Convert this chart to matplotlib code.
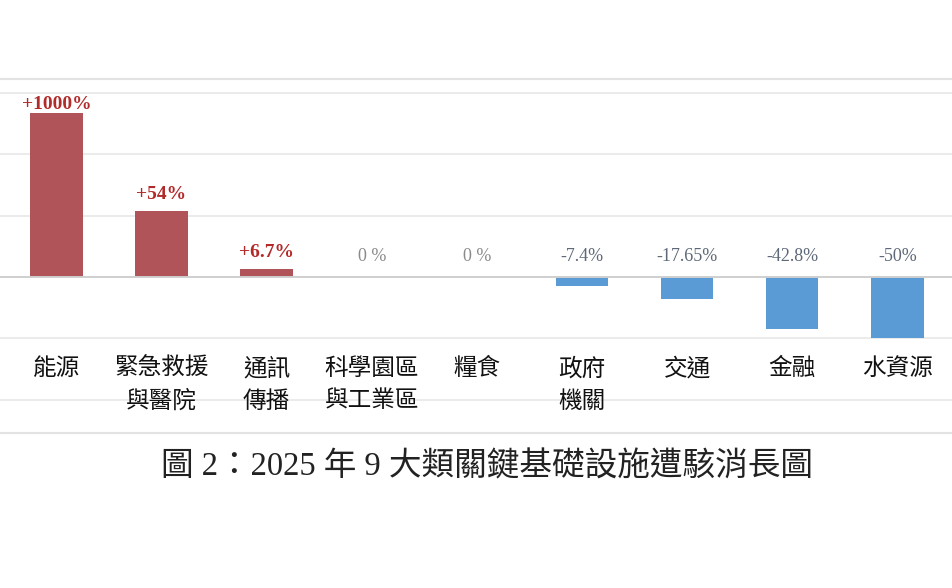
import matplotlib.pyplot as plt
from matplotlib.transforms import offset_copy

# data
categories = ['能源', '緊急救援\n與醫院', '通訊\n傳播', '科學園區\n與工業區', '糧食',
              '政府\n機關', '交通', '金融', '水資源']
values = [1000, 54, 6.7, 0, 0, -7.4, -17.65, -42.8, -50]
value_labels = ['+1000%', '+54%', '+6.7%', '0 %', '0 %', '-7.4%', '-17.65%', '-42.8%', '-50%']
title = '圖 2：2025 年 9 大類關鍵基礎設施遭駭消長圖'

# the big bar is cut off at the top of the chart
cap = 134
shown = [min(v, cap) for v in values]

red = '#b0545a'
blue = '#5b9bd5'
cjk = ['Liberation Serif', 'Noto Sans CJK TC']

fig = plt.figure(figsize=(9.53, 5.88), dpi=100)
ax = fig.add_axes([0, 1 - 433 / 588, 1, 354 / 588])

x = list(range(len(categories)))
colors = [red if v > 0 else blue for v in values]
ax.bar(x, shown, width=0.5, color=colors, zorder=3)

ax.set_xlim(-0.537, 8.53)
ax.set_ylim(-127.2, 161.4)
for g in [-100, -50, 50, 100, 150]:
    ax.axhline(g, color='#e8e8e8', lw=1.2, zorder=1)
ax.axhline(0, color='#cfcfcf', lw=1.4, zorder=4)

for s in ['left', 'right']:
    ax.spines[s].set_visible(False)
for s in ['top', 'bottom']:
    ax.spines[s].set_color('#e3e3e3')
    ax.spines[s].set_linewidth(1.5)
ax.set_xticks([])
ax.set_yticks([])

for i, (v, h, lab) in enumerate(zip(values, shown, value_labels)):
    if v > 0:
        off = 0 if v >= cap else 8
        tr = offset_copy(ax.transData, fig=fig, x=0, y=off, units='dots')
        ax.text(i, h, lab, transform=tr, ha='center', va='bottom', fontsize=14,
                fontweight='bold', color='#b22a2a', family='Liberation Serif', zorder=5)
    else:
        c = '#8a8a8a' if v == 0 else '#5d6878'
        tr = offset_copy(ax.transData, fig=fig, x=0, y=12, units='dots')
        ax.text(i, 0, lab, transform=tr, ha='center', va='bottom', fontsize=13,
                color=c, family='Liberation Serif', zorder=5)

for i, cat in enumerate(categories):
    ax.text(i, -73.4, cat, ha='center', va='top', fontsize=17, family=cjk,
            color='#111111', linespacing=1.62,
            transform=offset_copy(ax.transData, fig=fig, x=0, y=9, units='dots'))

fig.text(487 / 953, 1 - 467 / 588, title, ha='center', va='center', fontsize=23.5,
         family=cjk, color='#222222')

fig.savefig('out.png', dpi=100, facecolor='white')
